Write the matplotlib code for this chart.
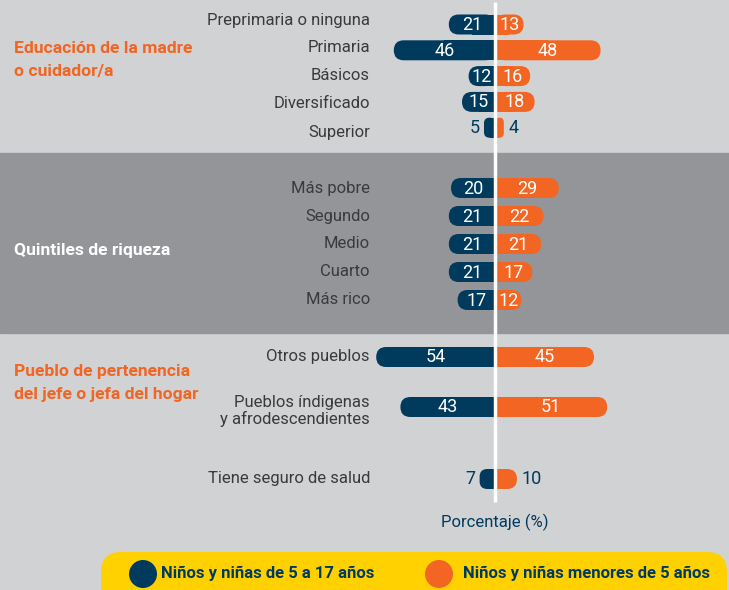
import matplotlib
matplotlib.use("Agg")
import matplotlib.pyplot as plt
from matplotlib.patches import FancyBboxPatch, Circle

# datos
edu_cats = ["Preprimaria o ninguna", "Primaria", "Básicos", "Diversificado", "Superior"]
edu_5_17 = [21, 46, 12, 15, 5]
edu_lt5 = [13, 48, 16, 18, 4]

quint_cats = ["Más pobre", "Segundo", "Medio", "Cuarto", "Más rico"]
quint_5_17 = [20, 21, 21, 21, 17]
quint_lt5 = [29, 22, 21, 17, 12]

pueblo_cats = ["Otros pueblos", "Pueblos índigenas\ny afrodescendientes"]
pueblo_5_17 = [54, 43]
pueblo_lt5 = [45, 51]

seguro_cats = ["Tiene seguro de salud"]
seguro_5_17 = [7]
seguro_lt5 = [10]

series_names = ["Niños y niñas de 5 a 17 años", "Niños y niñas menores de 5 años"]

NAVY = "#003a5d"
ORANGE = "#f26522"
BG = "#d1d2d4"
MID = "#939598"
TXT = "#3a3a3a"
YELLOW = "#ffd100"

plt.rcParams['font.family'] = ['Roboto', 'DejaVu Sans']

W, H = 729, 590
fig = plt.figure(figsize=(W / 100, H / 100), dpi=100)
fig.patch.set_facecolor(BG)

# capa de fondo en pixeles
bg = fig.add_axes([0, 0, 1, 1])
bg.set_xlim(0, W)
bg.set_ylim(H, 0)
bg.axis("off")
bg.axhspan(153, 333, color=MID, zorder=0)

# capa de barras: x en porcentaje, y en pixeles
CX = 495
PX = 2.2  # pixeles por punto porcentual
ax = fig.add_axes([0, 0, 1, 1])
ax.set_xlim(-CX / PX, (W - CX) / PX)
ax.set_ylim(H, 0)
ax.axis("off")
ax.patch.set_alpha(0)

BAR_H = 20


def pill(y, v, side, color):
    w = v
    r_px = min(BAR_H / 2, w * PX / 2)
    x0 = 0 if side > 0 else -w
    p = FancyBboxPatch((x0, y - BAR_H / 2), w, BAR_H,
                       boxstyle=f"round,pad=0,rounding_size={r_px / PX}",
                       mutation_aspect=PX, fc=color, ec="none", zorder=2)
    ax.add_patch(p)
    ax.barh(y, side * w / 2, height=BAR_H, color=color, zorder=2)
    if v > 10:
        ax.text(side * w / 2, y + 0.5, str(v), color="white", fontsize=13,
                ha="center", va="center", zorder=4)
    else:
        ax.text(side * (w + 2), y + 0.5, str(v), color=NAVY, fontsize=13,
                ha="left" if side > 0 else "right", va="center", zorder=4)


def group(cats, left, right, ys, label_ys=None):
    if label_ys is None:
        label_ys = ys
    for c, a, b, y, ly in zip(cats, left, right, ys, label_ys):
        pill(y, a, -1, NAVY)
        pill(y, b, 1, ORANGE)
        dy = 4 if "\n" in c else 0
        bg.text(370, ly + dy, c, color=TXT, fontsize=12, ha="right", va="center",
                linespacing=1.05)


group(edu_cats, edu_5_17, edu_lt5, [24.5 + 25.8 * i for i in range(5)],
      [20 + 28 * i for i in range(5)])
group(quint_cats, quint_5_17, quint_lt5, [188 + 28 * i for i in range(5)])
group(pueblo_cats, pueblo_5_17, pueblo_lt5, [357, 407])
group(seguro_cats, seguro_5_17, seguro_lt5, [479])

# linea central
ax.plot([0, 0], [2, 502], color="white", lw=2.5, zorder=3, solid_capstyle="butt")

# titulos de seccion
bg.text(14, 60, "Educación de la madre\no cuidador/a", color=ORANGE, fontsize=12.6,
        fontweight="bold", ha="left", va="center", linespacing=1.6)
bg.text(14, 250, "Quintiles de riqueza", color="white", fontsize=12.6,
        fontweight="bold", ha="left", va="center")
bg.text(14, 383, "Pueblo de pertenencia\ndel jefe o jefa del hogar", color=ORANGE,
        fontsize=12.6, fontweight="bold", ha="left", va="center", linespacing=1.6)

bg.text(CX, 522, "Porcentaje (%)", color=NAVY, fontsize=12, ha="center", va="center")

# leyenda
bg.add_patch(FancyBboxPatch((101, 552), 626, 60, boxstyle="round,pad=0,rounding_size=20",
                            fc=YELLOW, ec="none", zorder=1))
bg.add_patch(Circle((143, 574), 14, fc=NAVY, ec="none", zorder=2))
bg.add_patch(Circle((439, 574), 14, fc=ORANGE, ec="none", zorder=2))
bg.text(161, 573, series_names[0], color=NAVY, fontsize=12, fontweight="bold",
        ha="left", va="center", zorder=3)
bg.text(463, 573, series_names[1], color=NAVY, fontsize=12, fontweight="bold",
        ha="left", va="center", zorder=3)

fig.savefig("out.png", dpi=100, facecolor=BG)
